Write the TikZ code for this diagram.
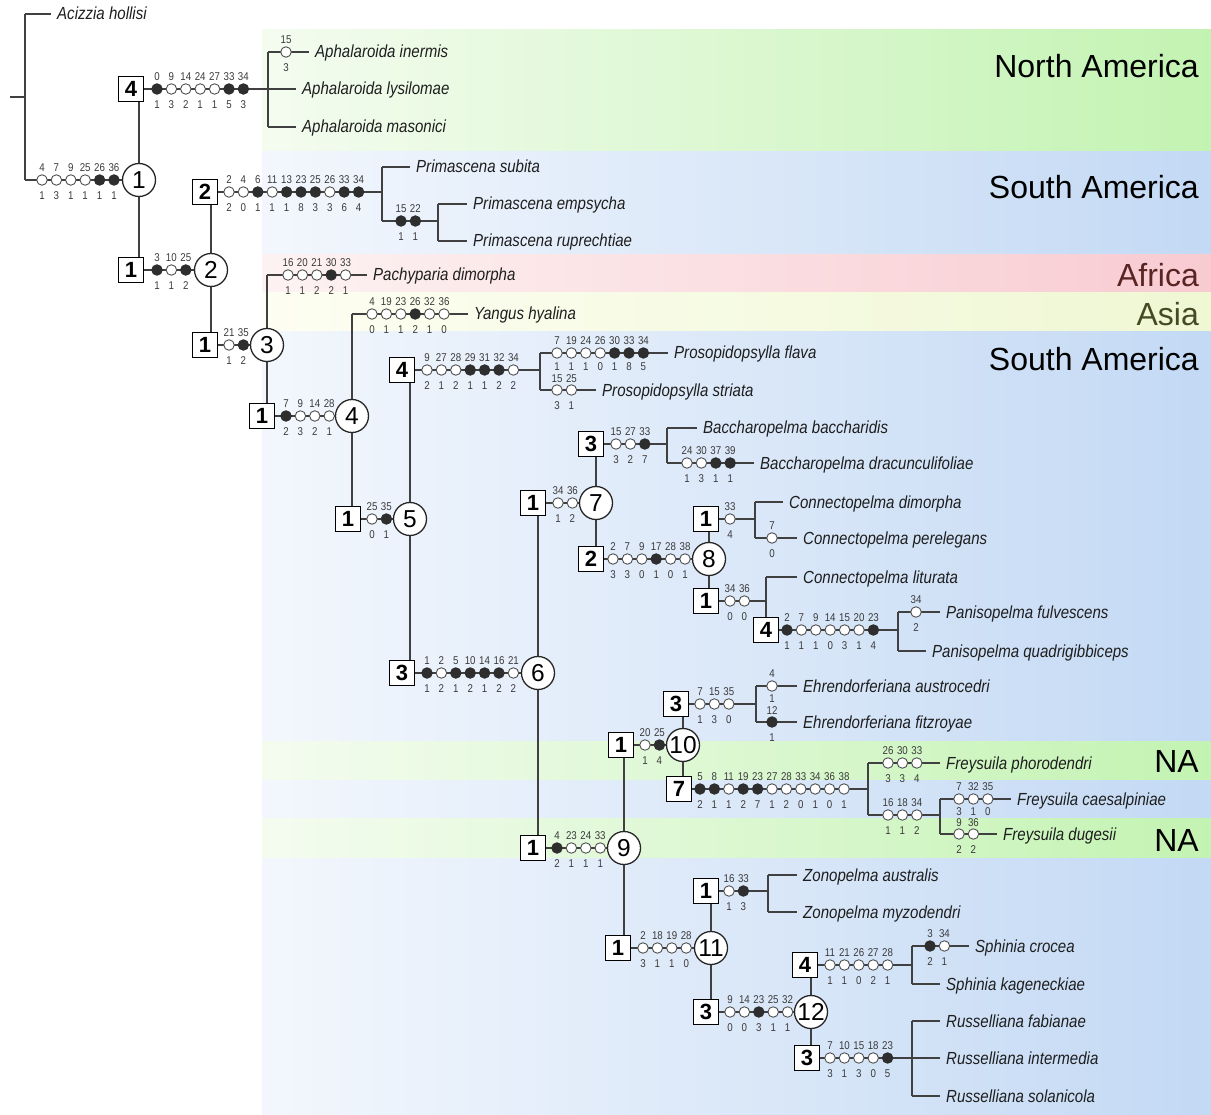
\documentclass[tikz,border=0pt]{standalone}
\usepackage{fontspec}
\setmainfont{Liberation Sans}
\newfontfamily\spf[FakeStretch=0.86]{Liberation Sans}
\newcommand\spfont{\spf\itshape\fontsize{17.5}{18}\selectfont}
\newcommand\labfont{\spf\fontsize{11.3}{12}\selectfont}
\newcommand\bxfont{\bfseries\fontsize{22}{22}\selectfont}
\newcommand\cnfont{\fontsize{24.5}{25}\selectfont}
\newcommand\regfont{\fontsize{32}{32}\selectfont}
\pgfdeclarelayer{bg}
\pgfdeclarelayer{lines}
\pgfsetlayers{bg,lines,main}
\definecolor{lncol}{HTML}{404040}
\definecolor{chcol}{HTML}{505050}
\definecolor{dotcol}{HTML}{2E2E2E}
\definecolor{labcol}{HTML}{3A3A3A}
\definecolor{spcol}{HTML}{1E1E1E}
\definecolor{nal}{HTML}{F4FCF0}
\definecolor{nar}{HTML}{C3F3B2}
\definecolor{sal}{HTML}{F3F7FD}
\definecolor{sar}{HTML}{C3D9F4}
\definecolor{afl}{HTML}{FDF2F2}
\definecolor{afr}{HTML}{F8CBD1}
\definecolor{asl}{HTML}{FDFEF2}
\definecolor{asr}{HTML}{EFF7D3}
\definecolor{aftext}{HTML}{5A2424}
\definecolor{astext}{HTML}{464A22}
\tikzset{
 br/.style={draw=lncol, line width=1.1pt},
 bx/.style={draw=black, line width=1.5pt, fill=white, minimum size=25pt, inner sep=0pt, font=\bxfont},
 cn/.style={circle, draw=black!85, line width=1.3pt, fill=white, minimum size=33pt, inner sep=0pt, font=\cnfont},
 cho/.style={circle, draw=chcol, line width=0.9pt, fill=white, minimum size=10.5pt, inner sep=0pt},
 chf/.style={circle, draw=dotcol, fill=dotcol, line width=0.9pt, minimum size=10.5pt, inner sep=0pt},
 lab/.style={font=\labfont, text=labcol, inner sep=0pt},
 sp/.style={font=\spfont, text=spcol, anchor=base west, inner sep=0pt},
 reg/.style={font=\regfont, anchor=base east, inner sep=0pt},
}
\newcommand\chrowo[5]{%
 \foreach \ab/\bl/\ty [count=\ii from 0] in {#5}{%
   \node[ch\ty] at ({#1+\ii*14.4},#2) {};
   \node[lab] at ({#1+\ii*14.4},{#2-#3}) {\ab};
   \node[lab] at ({#1+\ii*14.4},{#2+#4}) {\bl};
 }}
\newcommand\chrow[3]{\chrowo{#1}{#2}{12.5}{15.5}{#3}}
\newcommand\leaf[5]{%
 \coordinate (#1j) at (#2,#3);
 \coordinate (#1e) at ({#4-6},#3);
 \node[sp] (#1) at (#4,{#3+6}) {#5};
 \begin{pgfonlayer}{lines}\draw[br] (#1j) -- (#1e);\end{pgfonlayer}}
\newcommand\vl[2]{\begin{pgfonlayer}{lines}\draw[br] (#1) -- (#2);\end{pgfonlayer}}
\begin{document}
\begin{tikzpicture}[x=1pt,y=-1pt]
\useasboundingbox (0,0) rectangle (1211,1115);
% regions
\begin{pgfonlayer}{bg}
\shade[left color=nal, right color=nar] (262,30) rectangle (1211,152);
\shade[left color=sal, right color=sar] (262,152) rectangle (1211,255);
\shade[left color=afl, right color=afr] (262,255) rectangle (1211,293);
\shade[left color=asl, right color=asr] (262,293) rectangle (1211,332);
\shade[left color=sal, right color=sar] (262,332) rectangle (1211,1115);
\shade[left color=nal, right color=nar] (262,741) rectangle (1211,779);
\shade[left color=nal, right color=nar] (262,818) rectangle (1211,857);
\end{pgfonlayer}
\node[reg] (rg1) at (1199,77.5) {North America};
\node[reg] (rg2) at (1199,198.5) {South America};
\node[reg, text=aftext] (rg3) at (1199,286.5) {Africa};
\node[reg, text=astext] (rg4) at (1199,325.5) {Asia};
\node[reg] (rg5) at (1199,370.5) {South America};
\node[reg] (rg6) at (1199,772.5) {NA};
\node[reg] (rg7) at (1199,851.5) {NA};
% root
\coordinate (r0) at (10,97);
\coordinate (r1) at (25,97);
\coordinate (rb) at (25,180);
\leaf{aci}{25}{14}{57}{Acizzia hollisi}
\vl{r0}{r1}
\vl{acij}{rb}
% node 1
\node[cn] (c1) at (139,180) {1};
\vl{rb}{c1}
\chrow{42}{180}{4/1/o,7/3/o,9/1/o,25/1/o,26/1/f,36/1/f}
% Aphalaroida
\node[bx] (b4a) at (131,89) {4};
\vl{c1.north}{c1.north |- b4a.south}
\leaf{ine}{268}{52}{315}{Aphalaroida inermis}
\leaf{lys}{268}{89}{302}{Aphalaroida lysilomae}
\leaf{mas}{268}{127}{302}{Aphalaroida masonici}
\vl{inej}{masj}
\vl{b4a}{lysj}
\chrow{157}{89}{0/1/f,9/3/o,14/2/o,24/1/o,27/1/o,33/5/f,34/3/f}
\chrow{286}{52}{15/3/o}
% node 2
\node[bx] (b1a) at (131,270) {1};
\node[cn] (c2) at (211,270) {2};
\vl{c1.south}{c1.south |- b1a.north}
\vl{b1a}{c2}
\chrow{157}{270}{3/1/f,10/1/o,25/2/f}
% Primascena
\node[bx] (b2a) at (205,192) {2};
\vl{c2.north}{c2.north |- b2a.south}
\leaf{psu}{382}{167}{416}{Primascena subita}
\coordinate (pj2) at (382,221);
\coordinate (pj3) at (438,221);
\leaf{pem}{438}{204}{473}{Primascena empsycha}
\leaf{pru}{438}{241}{473}{Primascena ruprechtiae}
\vl{psuj}{pj2}
\vl{pj2}{pj3}
\vl{pemj}{pruj}
\coordinate (pj1) at (382,192);
\vl{b2a}{pj1}
\chrow{229}{192}{2/2/o,4/0/o,6/1/f,11/1/o,13/1/f,23/8/f,25/3/f,26/3/o,33/6/f,34/4/f}
\chrow{401}{221}{15/1/f,22/1/f}
% node 3
\node[bx] (b1b) at (205,345) {1};
\node[cn] (c3) at (267,345) {3};
\vl{c2.south}{c2.south |- b1b.north}
\vl{b1b}{c3}
\chrow{229}{345}{21/1/o,35/2/f}
\leaf{pac}{267}{275}{373}{Pachyparia dimorpha}
\vl{c3.north}{pacj}
\chrow{288}{275}{16/1/o,20/1/o,21/2/o,30/2/f,33/1/o}
% node 4
\node[bx] (b1c) at (262,416) {1};
\node[cn] (c4) at (352,416) {4};
\vl{c3.south}{c3.south |- b1c.north}
\vl{b1c}{c4}
\chrow{286}{416}{7/2/f,9/3/o,14/2/o,28/1/o}
\leaf{yan}{352}{314}{474}{Yangus hyalina}
\vl{c4.north}{yanj}
\chrow{372}{314}{4/0/o,19/1/o,23/1/o,26/2/f,32/1/o,36/0/o}
% node 5
\node[bx] (b1d) at (348,519) {1};
\node[cn] (c5) at (410,519) {5};
\vl{c4.south}{c4.south |- b1d.north}
\vl{b1d}{c5}
\chrow{372}{519}{25/0/o,35/1/f}
% Prosopidopsylla
\node[bx] (b4b) at (402,370) {4};
\vl{c5.north}{c5.north |- b4b.south}
\leaf{pfl}{540}{353}{674}{Prosopidopsylla flava}
\leaf{pst}{540}{390}{602}{Prosopidopsylla striata}
\coordinate (prj) at (540,370);
\vl{pflj}{pstj}
\vl{b4b}{prj}
\chrow{427}{370}{9/2/o,27/1/o,28/2/o,29/1/f,31/1/f,32/2/f,34/2/o}
\chrowo{557}{353}{12.5}{14}{7/1/o,19/1/o,24/1/o,26/0/o,30/1/f,33/8/f,34/5/f}
\chrowo{557}{390}{11.5}{15.5}{15/3/o,25/1/o}
% node 6
\node[bx] (b3a) at (402,673) {3};
\node[cn] (c6) at (538,673) {6};
\vl{c5.south}{c5.south |- b3a.north}
\vl{b3a}{c6}
\chrow{427}{673}{1/1/f,2/2/o,5/1/f,10/2/f,14/1/f,16/2/f,21/2/o}
% node 7
\node[bx] (b1e) at (533,503) {1};
\node[cn] (c7) at (596,503) {7};
\vl{c6.north}{c6.north |- b1e.south}
\vl{b1e}{c7}
\chrow{558}{503}{34/1/o,36/2/o}
% Baccharopelma
\node[bx] (b3b) at (591,444) {3};
\vl{c7.north}{c7.north |- b3b.south}
\leaf{bba}{667}{428}{703}{Baccharopelma baccharidis}
\leaf{bdr}{667}{463}{760}{Baccharopelma dracunculifoliae}
\coordinate (bj) at (667,444);
\vl{bbaj}{bdrj}
\vl{b3b}{bj}
\chrow{616}{444}{15/3/o,27/2/o,33/7/f}
\chrow{687}{463}{24/1/o,30/3/o,37/1/f,39/1/f}
% node 8
\node[bx] (b2b) at (591,559) {2};
\node[cn] (c8) at (709,559) {8};
\vl{c7.south}{c7.south |- b2b.north}
\vl{b2b}{c8}
\chrow{613}{559}{2/3/o,7/3/o,9/0/o,17/1/f,28/0/o,38/1/o}
% Connectopelma
\node[bx] (b1f) at (706,519) {1};
\vl{c8.north}{c8.north |- b1f.south}
\leaf{cdi}{755}{502}{789}{Connectopelma dimorpha}
\leaf{cpe}{755}{538}{803}{Connectopelma perelegans}
\coordinate (cj) at (755,519);
\vl{cdij}{cpej}
\vl{b1f}{cj}
\chrow{730}{519}{33/4/o}
\chrow{772}{538}{7/0/o}
\node[bx] (b1g) at (706,601) {1};
\vl{c8.south}{c8.south |- b1g.north}
\node[bx] (b4c) at (766,630) {4};
\leaf{cli}{766}{577}{803}{Connectopelma liturata}
\coordinate (lj) at (766,601);
\vl{b1g}{lj}
\vl{clij}{b4c.north}
\chrow{730}{601}{34/0/o,36/0/o}
% Panisopelma
\leaf{pfu}{898}{612}{946}{Panisopelma fulvescens}
\leaf{pqu}{898}{651}{932}{Panisopelma quadrigibbiceps}
\coordinate (pnj) at (898,630);
\vl{pfuj}{pquj}
\vl{b4c}{pnj}
\chrow{787}{630}{2/1/f,7/1/o,9/1/o,14/0/o,15/3/o,20/1/o,23/4/f}
\chrow{916}{612}{34/2/o}
% node 9
\node[bx] (b1h) at (533,848) {1};
\node[cn] (c9) at (624,848) {9};
\vl{c6.south}{c6.south |- b1h.north}
\vl{b1h}{c9}
\chrow{557}{848}{4/2/f,23/1/o,24/1/o,33/1/o}
% node 10
\node[bx] (b1i) at (621,745) {1};
\node[cn] (c10) at (683,745) {10};
\vl{c9.north}{c9.north |- b1i.south}
\vl{b1i}{c10}
\chrow{645}{745}{20/1/o,25/4/f}
% Ehrendorferiana
\node[bx] (b3c) at (676,704) {3};
\vl{c10.north}{c10.north |- b3c.south}
\leaf{eau}{756}{686}{803}{Ehrendorferiana austrocedri}
\leaf{efi}{756}{722}{803}{Ehrendorferiana fitzroyae}
\coordinate (ej) at (756,704);
\vl{eauj}{efij}
\vl{b3c}{ej}
\chrow{700}{704}{7/1/o,15/3/o,35/0/o}
\chrowo{772}{686}{12.5}{13}{4/1/o}
\chrowo{772}{722}{11}{15.5}{12/1/f}
% Freysuila
\node[bx] (b7) at (679,789) {7};
\vl{c10.south}{c10.south |- b7.north}
\leaf{fph}{868}{763}{946}{Freysuila phorodendri}
\coordinate (fj1) at (868,789);
\coordinate (fj2) at (868,815);
\coordinate (fj3) at (940,815);
\leaf{fca}{940}{799}{1017}{Freysuila caesalpiniae}
\leaf{fdu}{940}{834}{1003}{Freysuila dugesii}
\vl{b7}{fj1}
\vl{fphj}{fj2}
\vl{fj2}{fj3}
\vl{fcaj}{fduj}
\chrow{700}{789}{5/2/f,8/1/f,11/1/o,19/2/f,23/7/f,27/1/o,28/2/o,33/0/o,34/1/o,36/0/o,38/1/o}
\chrow{888}{763}{26/3/o,30/3/o,33/4/o}
\chrow{888}{815}{16/1/o,18/1/o,34/2/o}
\chrowo{959}{799}{12.5}{12.5}{7/3/o,32/1/o,35/0/o}
\chrowo{959}{834}{11}{15.5}{9/2/o,36/2/o}
% node 11
\node[bx] (b1j) at (618,948) {1};
\node[cn] (c11) at (711,948) {11};
\vl{c9.south}{c9.south |- b1j.north}
\vl{b1j}{c11}
\chrow{643}{948}{2/3/o,18/1/o,19/1/o,28/0/o}
% Zonopelma
\node[bx] (b1k) at (706,891) {1};
\vl{c11.north}{c11.north |- b1k.south}
\leaf{zau}{768}{875}{803}{Zonopelma australis}
\leaf{zmy}{768}{912}{803}{Zonopelma myzodendri}
\coordinate (zj) at (768,891);
\vl{zauj}{zmyj}
\vl{b1k}{zj}
\chrow{729}{891}{16/1/o,33/3/f}
% node 12
\node[bx] (b3d) at (706,1012) {3};
\node[cn] (c12) at (811,1012) {12};
\vl{c11.south}{c11.south |- b3d.north}
\vl{b3d}{c12}
\chrow{730}{1012}{9/0/o,14/0/o,23/3/f,25/1/o,32/1/o}
% Sphinia
\node[bx] (b4d) at (805,965) {4};
\vl{c12.north}{c12.north |- b4d.south}
\leaf{scr}{912}{946}{975}{Sphinia crocea}
\leaf{ska}{912}{984}{946}{Sphinia kageneckiae}
\coordinate (sj) at (912,965);
\vl{scrj}{skaj}
\vl{b4d}{sj}
\chrow{830}{965}{11/1/o,21/1/o,26/0/o,27/2/o,28/1/o}
\chrow{930}{946}{3/2/f,34/1/o}
% Russelliana
\node[bx] (b3e) at (807,1058) {3};
\vl{c12.south}{c12.south |- b3e.north}
\leaf{rfa}{912}{1021}{946}{Russelliana fabianae}
\leaf{rin}{912}{1058}{946}{Russelliana intermedia}
\leaf{rso}{912}{1096}{946}{Russelliana solanicola}
\vl{rfaj}{rsoj}
\vl{b3e}{rinj}
\chrow{830}{1058}{7/3/o,10/1/o,15/3/o,18/0/o,23/5/f}
\end{tikzpicture}
\end{document}
